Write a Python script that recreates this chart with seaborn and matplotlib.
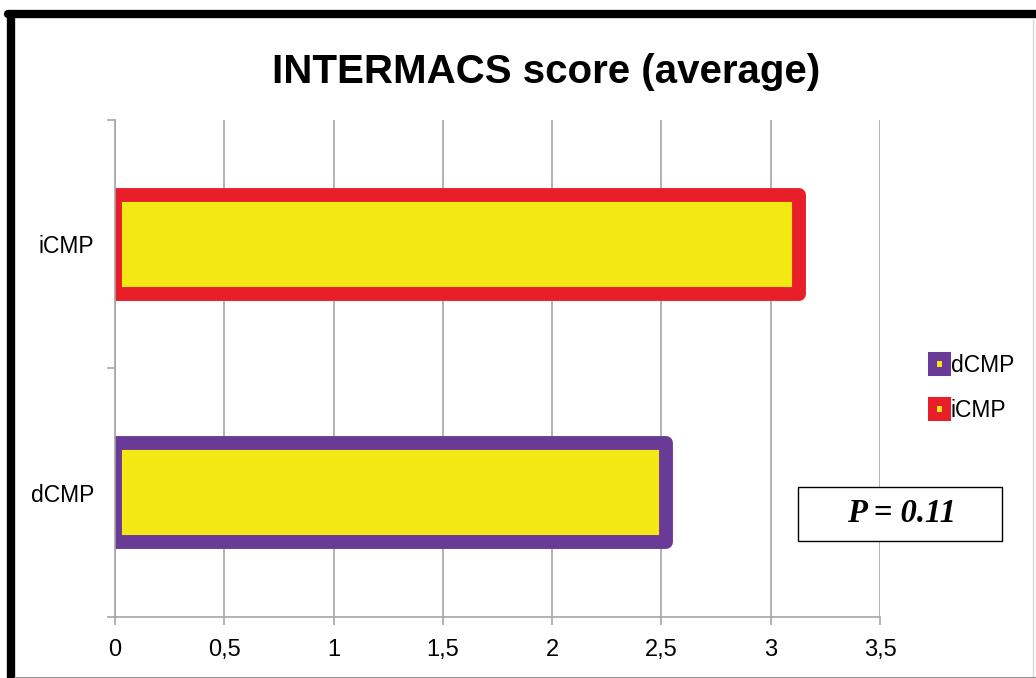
import matplotlib
matplotlib.use("Agg")
import matplotlib.pyplot as plt
from matplotlib.patches import Patch, Rectangle
from matplotlib.lines import Line2D
import seaborn as sns
import pandas as pd

# Data
groups = ["iCMP", "dCMP"]
scores = [3.13, 2.52]
legend_order = ["dCMP", "iCMP"]
x_ticks = [0, 0.5, 1, 1.5, 2, 2.5, 3, 3.5]
x_tick_labels = ["0", "0,5", "1", "1,5", "2", "2,5", "3", "3,5"]
title = "INTERMACS score (average)"
p_text = "P = 0.11"

# Colours
fill_yellow = "#F4E814"
edge_colors = {"iCMP": "#E81F28", "dCMP": "#6A3A97"}
grid_gray = "#A6A6A6"

sns.set_theme(style="white")
plt.rcParams["font.family"] = ["Liberation Sans", "DejaVu Sans"]

fig = plt.figure(figsize=(10.36, 6.78), dpi=100)
ax = fig.add_axes([0.111, 0.090, 0.7384, 0.733])

df = pd.DataFrame({"group": groups, "score": scores})
sns.barplot(data=df, x="score", y="group", orient="h", order=groups,
            color=fill_yellow, saturation=1, width=0.4, ax=ax)

for patch, g in zip(ax.patches, groups):
    patch.set_facecolor(fill_yellow)
    patch.set_edgecolor(edge_colors[g])
    patch.set_linewidth(10)
    patch.set_joinstyle("round")

ax.set_xlim(0, 3.5)
ax.set_ylim(1.5, -0.5)
ax.set_xticks(x_ticks)
ax.set_xticklabels(x_tick_labels)
ax.set_xlabel("")
ax.set_ylabel("")

# Vertical gridlines behind bars
ax.set_axisbelow(True)
ax.grid(axis="x", color=grid_gray, linewidth=1.2)
ax.grid(axis="y", visible=False)

for side in ["top", "right"]:
    ax.spines[side].set_visible(False)
for side in ["left", "bottom"]:
    ax.spines[side].set_visible(True)
    ax.spines[side].set_color(grid_gray)
    ax.spines[side].set_linewidth(1.2)

# Category labels without ticks; separator ticks at band boundaries
ax.set_yticks([-0.5, 0.5, 1.5], minor=True)
ax.tick_params(axis="y", which="major", length=0, pad=15, labelsize=16.5, labelcolor="black")
ax.tick_params(axis="y", which="minor", length=6, width=1.2, color=grid_gray, left=True)
ax.tick_params(axis="x", which="major", length=6, width=1.2, color=grid_gray,
               bottom=True, pad=10, labelsize=17, labelcolor="black")

# Legend
handles = [Patch(facecolor=fill_yellow, edgecolor=edge_colors[g], linewidth=6.5,
                 joinstyle="round", label=g) for g in legend_order]
fig.legend(handles=handles, loc="center left", bbox_to_anchor=(0.8996, 0.428),
           frameon=False, fontsize=16.5, handlelength=0.62, handleheight=0.62,
           handletextpad=0.2, labelspacing=0.95, borderpad=0, borderaxespad=0,
           labelcolor="black")

# Title
fig.text(0.527, 1 - 83 / 678, title, ha="center", va="baseline",
         fontsize=29, fontweight="bold", color="black")

# P-value box
fig.add_artist(Rectangle((798 / 1036, 1 - 541 / 678), 204 / 1036, 54 / 678,
                         transform=fig.transFigure, facecolor="white",
                         edgecolor="black", linewidth=1.0))
fig.text(902 / 1036, 1 - 514 / 678, p_text, ha="center", va="center",
         fontsize=23.5, fontweight="bold", fontstyle="italic",
         family=["Liberation Serif", "DejaVu Serif"], color="black")

# Frame around the figure
fig.add_artist(Line2D([11 / 1036, 11 / 1036], [0, 1 - 14 / 678], transform=fig.transFigure,
                      color="black", linewidth=6))
fig.add_artist(Line2D([8 / 1036, 1], [1 - 14 / 678, 1 - 14 / 678], transform=fig.transFigure,
                      color="black", linewidth=6))
fig.add_artist(Line2D([1033 / 1036, 1033 / 1036], [0, 1 - 18 / 678], transform=fig.transFigure,
                      color="#D8D8D8", linewidth=1))
fig.add_artist(Line2D([15 / 1036, 1], [0.5 / 678, 0.5 / 678], transform=fig.transFigure,
                      color="#909090", linewidth=1.5))

fig.savefig("out.png", dpi=100)
